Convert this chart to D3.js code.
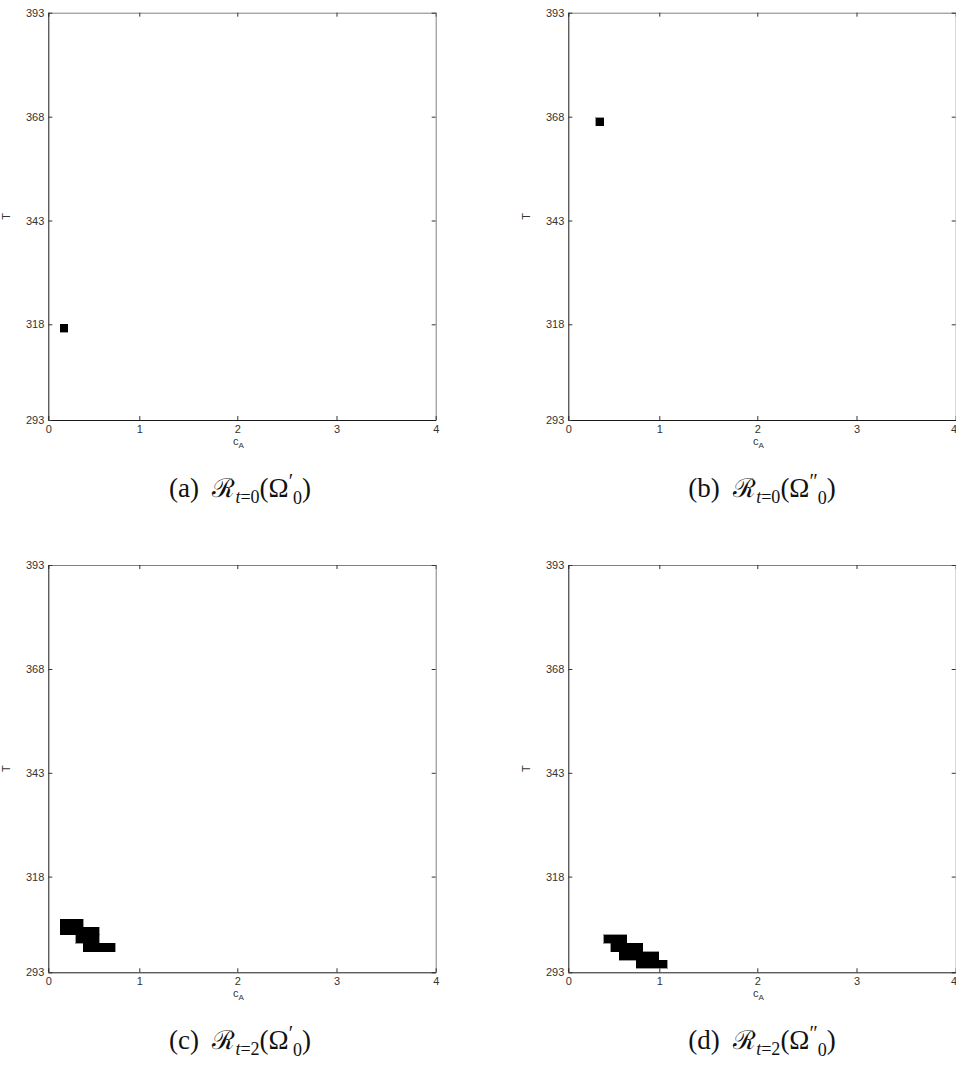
<!DOCTYPE html>
<html>
<head>
<meta charset="utf-8">
<script src="https://cdn.jsdelivr.net/npm/d3@7"></script>
<style>
  body { margin: 0; background: #fff; }
  svg { display: block; }
</style>
</head>
<body>
<svg id="fig" width="956" height="1082"></svg>
<script>
// axis ticks
const cATicks = [0, 1, 2, 3, 4];
const tTicks = [293, 318, 343, 368, 393];

// reachable cells, one run per row: [cA from, cA to, T from, T to]
const cellsA = [[0.129, 0.213, 315.9, 318.0]];
const cellsB = [[0.301, 0.389, 365.8, 367.8]];
const cellsC = [
  [0.129, 0.385, 304.8, 306.9],
  [0.129, 0.560, 302.75, 304.8],
  [0.301, 0.560, 300.6, 302.75],
  [0.385, 0.736, 298.4, 300.6]
];
const cellsD = [
  [0.389, 0.642, 300.6, 302.75],
  [0.469, 0.818, 298.4, 300.6],
  [0.560, 0.993, 296.2, 298.4],
  [0.744, 1.082, 294.0, 296.2]
];

// caption parts
const letters = ['(a)', '(b)', '(c)', '(d)'];
const tValues = [0, 0, 2, 2];
const primes = ['\u2032', '\u2033', '\u2032', '\u2033'];

const svg = d3.select('#fig');

// the matlab axes are not quite even, first interval is shorter
const xOff = [0, 91, 189, 288.2, 387.4];
const yOff = [407.3, 311.6, 207.8, 104, 0];
const W = 387.4, H = 407.3;

const panels = [
  { left: 48.3, top: 12.7, cells: cellsA, capX: 240, capY: 497 },
  { left: 568.3, top: 12.7, cells: cellsB, capX: 762, capY: 497 },
  { left: 48.3, top: 565, cells: cellsC, capX: 240, capY: 1049 },
  { left: 568.3, top: 565, cells: cellsD, capX: 762, capY: 1049 }
];

panels.forEach((p, i) => {
  const x = d3.scaleLinear().domain(cATicks).range(xOff);
  const y = d3.scaleLinear().domain(tTicks).range(yOff);

  const g = svg.append('g').attr('transform', `translate(${p.left},${p.top})`);

  g.selectAll('rect.cell')
    .data(p.cells)
    .enter()
    .append('rect')
    .attr('class', 'cell')
    .attr('x', d => x(d[0]))
    .attr('width', d => x(d[1]) - x(d[0]))
    .attr('y', d => y(d[3]))
    .attr('height', d => y(d[2]) - y(d[3]))
    .attr('fill', '#000')
    .attr('stroke', '#000')
    .attr('stroke-width', 0.4)
    .attr('shape-rendering', 'crispEdges');

  // mirrored box, top + right are lighter
  const gt = g.append('g')
    .call(d3.axisTop(x).tickValues(cATicks).tickSize(-4).tickSizeOuter(0).tickFormat(''));
  const gr = g.append('g')
    .attr('transform', `translate(${W},0)`)
    .call(d3.axisRight(y).tickValues(tTicks).tickSize(-4).tickSizeOuter(0).tickFormat(''));
  [gt, gr].forEach(a => {
    a.select('.domain').attr('stroke', '#808080');
    a.selectAll('.tick line').attr('stroke', '#333');
  });

  const gx = g.append('g')
    .attr('transform', `translate(0,${H})`)
    .call(d3.axisBottom(x).tickValues(cATicks).tickSize(-4).tickSizeOuter(0).tickPadding(5).tickFormat(d3.format('d')));
  const gy = g.append('g')
    .call(d3.axisLeft(y).tickValues(tTicks).tickSize(-4).tickSizeOuter(0).tickPadding(4).tickFormat(d3.format('d')));

  [gx, gy].forEach(a => {
    a.select('.domain').attr('stroke', '#1a1a1a');
    a.selectAll('.tick line').attr('stroke', '#333');
    a.selectAll('.tick text')
      .attr('font-family', '"Liberation Sans", Arial, sans-serif')
      .attr('font-size', 11)
      .attr('fill', '#333');
  });
  // right column: last x label sits on the page edge
  if (i % 2) {
    gx.selectAll('.tick text').filter(d => d === 4).attr('text-anchor', 'end').attr('dx', 1);
  }

  g.append('text')
    .attr('transform', `translate(-38,${H / 2}) rotate(-90)`)
    .attr('text-anchor', 'middle')
    .attr('font-family', '"Liberation Sans", Arial, sans-serif')
    .attr('font-size', 11)
    .attr('fill', '#333')
    .text('T');

  const xl = g.append('text')
    .attr('x', 190)
    .attr('y', H + 25)
    .attr('text-anchor', 'middle')
    .attr('font-family', '"Liberation Sans", Arial, sans-serif')
    .attr('font-size', 11)
    .attr('fill', '#333');
  xl.append('tspan').text('c');
  xl.append('tspan').attr('font-size', 8).attr('dy', 3).text('A');

  // caption under each panel
  const cap = svg.append('text')
    .attr('x', p.capX)
    .attr('y', p.capY)
    .attr('text-anchor', 'middle')
    .attr('font-family', '"Liberation Serif", "DejaVu Serif", serif')
    .attr('font-size', 27)
    .attr('fill', '#111');
  cap.append('tspan').text(letters[i] + '\u2002');
  cap.append('tspan').attr('font-family', '"DejaVu Serif", serif').attr('font-size', 26).text('\u211B');
  cap.append('tspan').attr('font-size', 18).attr('dy', 6).attr('font-style', 'italic').text('t');
  cap.append('tspan').attr('font-size', 18).text('=' + tValues[i]);
  cap.append('tspan').attr('dy', -6).text('(\u03A9');
  cap.append('tspan').attr('font-size', 20).attr('dy', -9).text(primes[i]);
  cap.append('tspan').attr('font-size', 18).attr('dy', 16).text('0');
  cap.append('tspan').attr('dy', -7).text(')');
});
</script>
</body>
</html>
